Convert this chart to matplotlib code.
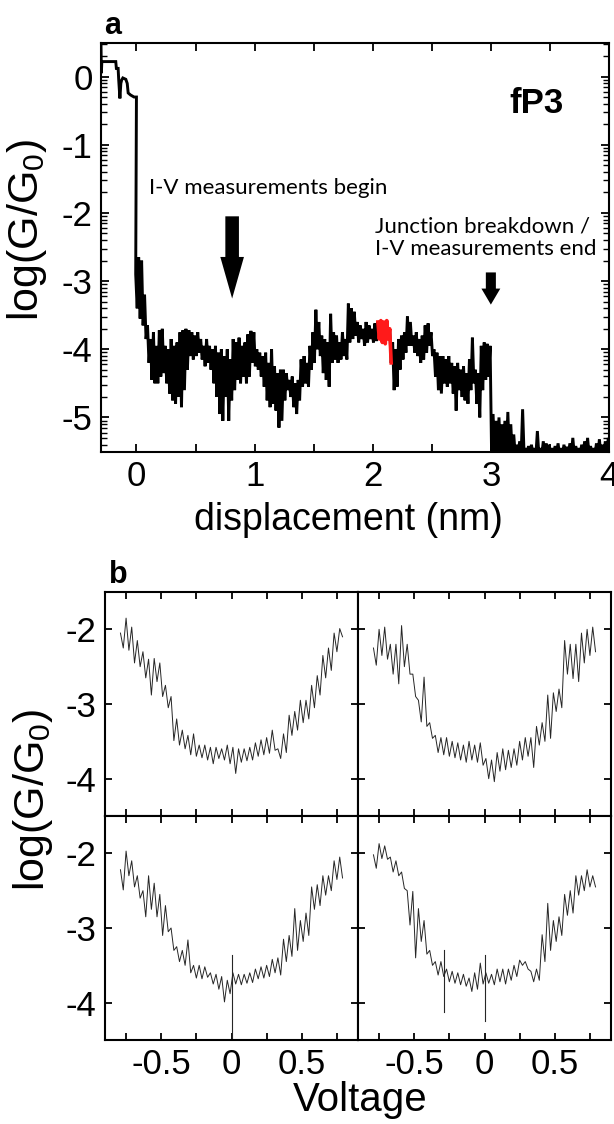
import numpy as np
import matplotlib
matplotlib.use("Agg")
import matplotlib.pyplot as plt

plt.rcParams['font.family'] = ['Liberation Sans', 'DejaVu Sans']
plt.rcParams['axes.unicode_minus'] = False
plt.rcParams['mathtext.default'] = 'regular'

# ---- panel a: conductance trace (log G/G0 vs displacement) ----
# contact region before the break (x < 0)
pre_x = [-0.300, -0.297, -0.293, -0.285, -0.175, -0.170, -0.155, -0.150, -0.140,
         -0.132, -0.125, -0.115, -0.090, -0.078, -0.070, -0.050, -0.020, 0.000]
pre_y = [0.45, 0.05, 0.22, 0.22, 0.22, 0.12, 0.12, -0.05, -0.32,
         -0.10, -0.05, -0.02, -0.04, -0.10, -0.24, -0.27, -0.30, -0.30]

# noisy part, 0 .. 4 nm every 0.025 nm: upper / lower edge of the band
disp_step = 0.025
disp_hi = [
    -2.90, -2.65, -2.70, -3.20, -3.65, -3.85, -3.75, -3.95, -3.72, -3.70,
    -3.95, -4.00, -3.85, -3.95, -3.90, -3.75, -3.72, -3.70, -3.72, -3.75,
    -3.80, -3.75, -3.85, -3.95, -3.85, -3.95, -4.00, -3.95, -4.05, -4.00,
    -4.10, -4.00, -4.15, -3.85, -3.90, -3.83, -3.95, -3.90, -3.78, -3.73,
    -3.75, -4.00, -4.05, -4.10, -4.05, -4.20, -4.00, -4.25, -4.35, -4.30,
    -4.30, -4.35, -4.45, -4.40, -4.50, -4.45, -4.15, -4.10, -4.20, -3.95,
    -3.75, -3.42, -3.60, -3.80, -3.85, -3.90, -3.48, -3.75, -3.80, -3.90,
    -3.75, -3.85, -3.33, -3.40, -3.45, -3.60, -3.65, -3.70, -3.60, -3.65,
    -3.70, -3.62, -3.60, -3.58, -3.60, -3.58, -3.70, -3.90, -4.00, -3.85,
    -3.80, -3.75, -3.52, -3.60, -3.80, -3.75, -3.85, -3.80, -3.65, -3.62,
    -3.75, -4.00, -4.05, -4.10, -4.10, -4.15, -4.10, -4.20, -4.25, -4.20,
    -4.30, -4.25, -4.35, -4.15, -3.83, -4.30, -4.35, -3.95, -3.90, -3.92,
    -3.95, -4.95, -5.05, -5.00, -5.10, -5.05, -4.92, -5.10, -5.25, -5.40,
    -5.35, -4.88, -5.45, -5.42, -5.40, -5.45, -5.20, -5.45, -5.35, -5.38,
    -5.40, -5.45, -5.42, -5.38, -5.45, -5.40, -5.43, -5.38, -5.30, -5.42,
    -5.45, -5.40, -5.35, -5.30, -5.42, -5.45, -5.38, -5.32, -5.40, -5.35,
    -5.30,
]
disp_lo = [
    -3.40, -3.55, -3.65, -3.85, -4.20, -4.45, -4.50, -4.50, -4.40, -4.35,
    -4.50, -4.65, -4.75, -4.80, -4.70, -4.85, -4.60, -4.30, -4.10, -4.15,
    -4.10, -4.05, -4.15, -4.25, -4.20, -4.30, -4.50, -4.70, -4.95, -5.05,
    -4.70, -5.05, -4.75, -4.60, -4.45, -4.50, -4.40, -4.50, -4.40, -4.20,
    -4.25, -4.30, -4.40, -4.55, -4.75, -4.85, -4.80, -4.90, -5.15, -5.05,
    -4.75, -4.60, -4.70, -4.85, -4.95, -4.75, -4.55, -4.50, -4.55, -4.30,
    -4.20, -4.00, -4.10, -4.35, -4.45, -4.55, -4.20, -4.15, -4.20, -4.15,
    -4.10, -4.15, -3.90, -3.85, -3.80, -3.90, -3.85, -3.95, -3.90, -3.85,
    -3.90, -3.88, -3.85, -3.90, -3.92, -3.85, -4.20, -4.60, -4.55, -4.30,
    -4.15, -4.05, -3.95, -3.95, -4.05, -4.10, -4.20, -4.15, -4.05, -3.95,
    -4.10, -4.40, -4.60, -4.65, -4.50, -4.55, -4.50, -4.65, -4.90, -4.60,
    -4.70, -4.75, -4.80, -4.60, -4.50, -4.80, -5.00, -4.60, -4.45, -4.40,
    -5.55, -5.55, -5.55, -5.55, -5.55, -5.55, -5.55, -5.55, -5.55, -5.55,
    -5.55, -5.55, -5.55, -5.55, -5.55, -5.55, -5.55, -5.55, -5.55, -5.55,
    -5.55, -5.55, -5.55, -5.55, -5.55, -5.55, -5.55, -5.55, -5.55, -5.55,
    -5.55, -5.55, -5.55, -5.55, -5.55, -5.55, -5.55, -5.55, -5.55, -5.55,
    -5.55,
]
red_span = (2.04, 2.16)   # part of the trace shown in red

# arrows: x, top, tip, shaft width, head width, head length (data units)
arrow_x = [0.81, 3.0]
arrow_top = [-2.05, -2.873]
arrow_tip = [-3.256, -3.345]
arrow_w = [0.115, 0.085]
arrow_hw = [0.20, 0.16]
arrow_hl = [0.61, 0.235]

# ---- panel b: four I-V sweeps, log G/G0 vs voltage ----
volt = [-0.78, -0.74, -0.70, -0.66, -0.62, -0.58, -0.54, -0.50, -0.46, -0.42,
        -0.38, -0.34, -0.30, -0.26, -0.22, -0.18, -0.14, -0.10, -0.06, -0.02,
        0.02, 0.06, 0.10, 0.14, 0.18, 0.22, 0.26, 0.30, 0.34, 0.38,
        0.42, 0.46, 0.50, 0.54, 0.58, 0.62, 0.66, 0.70, 0.74, 0.78]
iv1_hi = [-2.05, -1.85, -1.97, -2.15, -2.30, -2.40, -2.39, -2.45, -2.75, -2.90,
          -3.20, -3.35, -3.42, -3.40, -3.55, -3.55, -3.58, -3.58, -3.60, -3.55,
          -3.58, -3.60, -3.60, -3.58, -3.52, -3.48, -3.45, -3.35, -3.60, -3.40,
          -3.15, -3.10, -2.95, -2.95, -2.75, -2.62, -2.35, -2.25, -2.05, -1.99]
iv1_lo = [-2.25, -2.28, -2.45, -2.50, -2.65, -2.88, -2.70, -2.90, -3.05, -3.49,
          -3.55, -3.60, -3.68, -3.70, -3.72, -3.75, -3.80, -3.73, -3.75, -3.80,
          -3.93, -3.78, -3.76, -3.75, -3.70, -3.68, -3.66, -3.62, -3.73, -3.65,
          -3.42, -3.35, -3.25, -3.20, -3.05, -2.88, -2.65, -2.55, -2.30, -2.10]
iv2_hi = [-2.25, -2.00, -1.97, -2.20, -2.20, -1.95, -2.20, -2.60, -2.95, -2.64,
          -3.25, -3.42, -3.45, -3.45, -3.50, -3.52, -3.55, -3.50, -3.55, -3.52,
          -3.73, -3.75, -3.65, -3.60, -3.62, -3.60, -3.50, -3.45, -3.45, -3.30,
          -3.25, -2.88, -2.85, -2.80, -2.15, -2.20, -2.20, -2.05, -2.00, -1.97]
iv2_lo = [-2.48, -2.35, -2.40, -2.60, -2.73, -2.50, -2.60, -2.90, -3.24, -3.30,
          -3.46, -3.65, -3.68, -3.70, -3.72, -3.75, -3.78, -3.75, -3.78, -3.82,
          -4.00, -4.04, -3.90, -3.88, -3.85, -3.82, -3.75, -3.70, -3.85, -3.55,
          -3.50, -3.46, -3.10, -3.05, -2.60, -2.66, -2.70, -2.45, -2.35, -2.30]
iv3_hi = [-2.22, -1.97, -2.10, -2.30, -2.50, -2.30, -2.40, -2.55, -2.70, -3.00,
          -3.25, -3.30, -3.16, -3.50, -3.50, -3.52, -3.60, -3.62, -3.65, -3.70,
          -3.60, -3.62, -3.62, -3.60, -3.55, -3.52, -3.50, -3.42, -3.40, -3.15,
          -3.10, -2.74, -2.90, -2.80, -2.45, -2.42, -2.30, -2.30, -2.10, -2.05]
iv3_lo = [-2.49, -2.30, -2.45, -2.60, -2.85, -2.75, -2.85, -3.10, -3.05, -3.30,
          -3.45, -3.50, -3.60, -3.67, -3.68, -3.66, -3.75, -3.82, -3.99, -3.88,
          -3.75, -3.76, -3.74, -3.73, -3.68, -3.67, -3.65, -3.60, -3.63, -3.45,
          -3.38, -3.30, -3.18, -3.10, -2.75, -2.70, -2.56, -2.50, -2.35, -2.33]
iv4_hi = [-2.02, -1.87, -1.90, -2.05, -2.10, -2.25, -2.50, -2.51, -2.74, -2.90,
          -3.30, -3.45, -3.45, -3.55, -3.58, -3.60, -3.62, -3.67, -3.60, -3.47,
          -3.60, -3.62, -3.55, -3.55, -3.55, -3.50, -3.43, -3.45, -3.58, -3.55,
          -3.09, -2.67, -2.90, -2.85, -2.55, -2.50, -2.30, -2.30, -2.22, -2.30]
iv4_lo = [-2.20, -2.07, -2.08, -2.25, -2.30, -2.47, -2.96, -3.40, -3.18, -3.35,
          -3.50, -3.63, -3.65, -3.72, -3.74, -3.76, -3.78, -3.85, -3.82, -3.75,
          -3.74, -3.76, -3.72, -3.75, -3.70, -3.65, -3.50, -3.55, -3.72, -3.70,
          -3.45, -3.30, -3.18, -3.10, -2.83, -2.80, -2.56, -2.50, -2.45, -2.45]
# single spikes: (voltage, top, bottom)
iv_spikes = [[], [], [(0.0, -3.36, -4.60)], [(-0.29, -3.29, -4.12), (0.0, -3.36, -4.25)]]


def zigzag(x, hi, lo, dx):
    # walk between the upper and lower edge of the noise band at each sample
    x = np.asarray(x, dtype=float)
    xs = np.column_stack([x - dx / 4, x + dx / 4]).ravel()
    ys = np.column_stack([hi, lo]).ravel()
    return xs, ys


fig = plt.figure(figsize=(6.14, 11.24), dpi=100)
W, H = 614.0, 1124.0

# ---------- panel a ----------
ax = fig.add_axes([101 / W, 1 - 451.5 / H, 508 / W, 409 / H])
grid = np.arange(len(disp_hi)) * disp_step
zx, zy = zigzag(grid, disp_hi, disp_lo, disp_step)
xa = np.concatenate([pre_x, zx])
ya = np.concatenate([pre_y, zy])
ax.plot(xa, ya, color='black', lw=2.1, solid_joinstyle='miter')
red = (xa >= red_span[0]) & (xa <= red_span[1])
ax.plot(xa[red], ya[red], color='#ff1a1a', lw=2.6)

for x0, top, tip, w, hw, hl in zip(arrow_x, arrow_top, arrow_tip, arrow_w, arrow_hw, arrow_hl):
    ax.arrow(x0, top, 0, tip - top, width=w, head_width=hw, head_length=hl,
             length_includes_head=True, fc='black', ec='black', lw=0)

ax.text(0.11, -1.63, 'I-V measurements begin', fontsize=16, family=['Lato', 'DejaVu Sans'],
        ha='left', va='center')
ax.text(2.02, -2.36, 'Junction breakdown /\nI-V measurements end', fontsize=16,
        family=['Lato', 'DejaVu Sans'], ha='left', va='center', linespacing=1.15)
ax.text(3.39, -0.39, 'fP3', fontsize=25, fontweight='bold', ha='center', va='center')

ax.set_xlim(-0.3, 4.0)
ax.set_ylim(-5.5, 0.5)
ax.set_xticks([0, 1, 2, 3, 4])
ax.set_xticks([0.5, 1.5, 2.5, 3.5], minor=True)
ax.set_yticks([0, -1, -2, -3, -4, -5])
log_minor = [d + np.log10(k) for d in range(-6, 1) for k in range(2, 10)]
ax.set_yticks([v for v in log_minor if -5.5 < v < 0.5], minor=True)
ax.tick_params(which='both', direction='in', top=True, right=True, labelsize=25)
ax.tick_params(which='major', length=6, width=1.3, pad=6)
ax.tick_params(which='minor', length=4, width=1.0)
ax.tick_params(axis='x', which='minor', length=6, width=1.3)
for s in ax.spines.values():
    s.set_linewidth(1.5)

fig.text(104 / W, 1 - 26 / H, 'a', fontsize=22, fontweight='bold', va='center')
fig.text(348 / W, 1 - 520 / H, 'displacement (nm)', fontsize=27, ha='center', va='center')
fig.text(27 / W, 1 - 230 / H, 'log(G/G$_0$)', fontsize=31, rotation=90, ha='center', va='center')

# ---------- panel b ----------
L, M, R = 105 / W, 358 / W, 611 / W
T, Mid, B = 1 - 592 / H, 1 - 816 / H, 1 - 1040 / H
boxes = [[L, Mid, M - L, T - Mid], [M, Mid, R - M, T - Mid],
         [L, B, M - L, Mid - B], [M, B, R - M, Mid - B]]
curves = [(iv1_hi, iv1_lo), (iv2_hi, iv2_lo), (iv3_hi, iv3_lo), (iv4_hi, iv4_lo)]

for i, (box, (hi, lo)) in enumerate(zip(boxes, curves)):
    bx = fig.add_axes(box)
    vx, vy = zigzag(volt, hi, lo, 0.04)
    bx.plot(vx, vy, color='#262626', lw=0.7)
    for v, top, bot in iv_spikes[i]:
        bx.plot([v, v], [top, bot], color='#262626', lw=0.8)
    bx.set_xlim(-0.9, 0.9)
    bx.set_ylim(-4.5, -1.5)
    bx.set_xticks([-0.5, 0, 0.5], labels=['-0.5', '0', '0.5'])
    bx.set_xticks([-0.75, -0.25, 0.25, 0.75], minor=True)
    bx.set_yticks([-2, -3, -4], labels=['-2', '-3', '-4'])
    bx.tick_params(which='both', direction='in', top=True, right=True, labelsize=25,
                   length=5, width=1.3, pad=6)
    if i < 2:
        bx.tick_params(labelbottom=False)
    if i % 2 == 1:
        bx.tick_params(labelleft=False)
    for s in bx.spines.values():
        s.set_linewidth(1.5)

fig.text(109 / W, 1 - 575 / H, 'b', fontsize=22, fontweight='bold', va='center')
fig.text(360 / W, 1 - 1100 / H, 'Voltage', fontsize=29, ha='center', va='center')
fig.text(33 / W, 1 - 800 / H, 'log(G/G$_0$)', fontsize=31, rotation=90, ha='center', va='center')

fig.savefig('out.png', dpi=100, facecolor='white')
